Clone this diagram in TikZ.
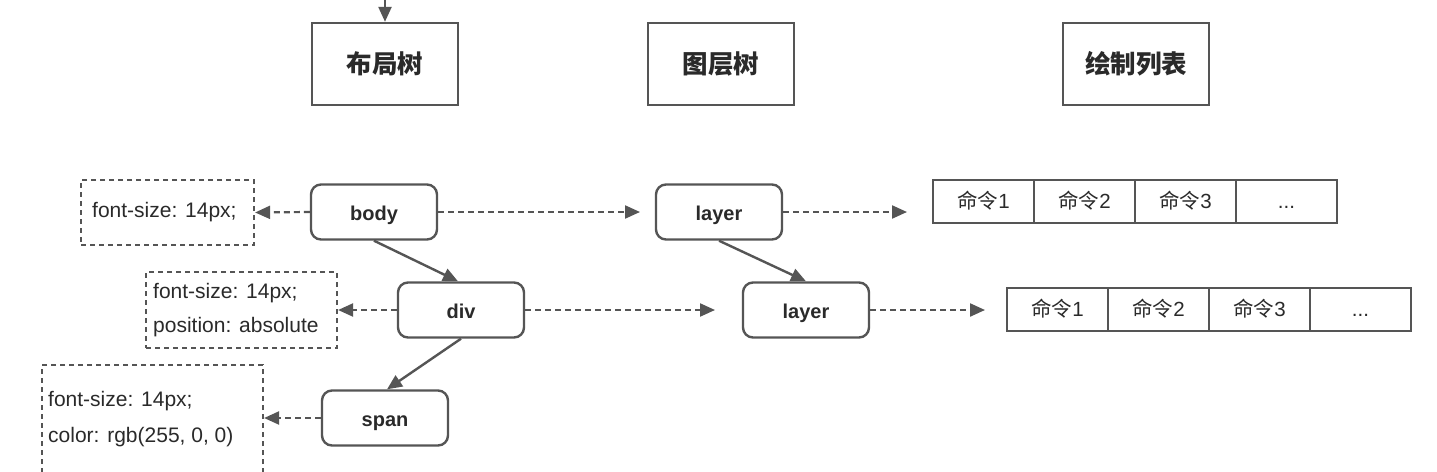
\documentclass[tikz,border=0pt]{standalone}
\usepackage{fontspec}
\setmainfont{Liberation Sans}
\newfontfamily\cjk{Noto Sans CJK SC}
\usetikzlibrary{arrows.meta,positioning}
\definecolor{ln}{HTML}{555555}
\definecolor{tx}{HTML}{2a2a2a}
\newcommand{\mydots}{...}
\begin{document}
\begin{tikzpicture}[x=1pt,y=-1pt,
  every node/.style={text=tx},
  titlebox/.style={draw=ln,line width=2.4pt,minimum width=146pt,minimum height=82pt,font=\cjk\fontsize{25.5}{29}\selectfont\bfseries},
  treebox/.style={draw=ln,line width=2.4pt,rounded corners=10pt,minimum width=126pt,minimum height=55pt,inner sep=0pt,text height=18pt,text depth=2pt,font=\fontsize{20}{23}\selectfont\bfseries},
  propbox/.style={draw=ln,line width=2.2pt,dash pattern=on 5pt off 4pt},
  proptext/.style={font=\fontsize{21}{24}\selectfont,anchor=west,inner sep=0pt},
  cell/.style={draw=ln,line width=2.2pt,minimum width=101pt,minimum height=43pt,font=\fontsize{20.5}{24}\selectfont,inner sep=0pt,text height=16pt,text depth=2pt},
  tip/.style={-{Triangle[length=15pt,width=13pt]}},
  darr/.style={draw=ln,line width=2.2pt,dash pattern=on 6pt off 4pt,tip},
  sarr/.style={draw=ln,line width=2.4pt,tip}]
\clip (0,0) rectangle (1437,471);
\useasboundingbox (0,0) rectangle (1437,471);
\fill[white] (0,0) rectangle (1437,471);

% titles
\node[titlebox] (layout) at (385,64) {布局树};
\node[titlebox] (ltree) at (721,64) {图层树};
\node[titlebox] (plist) at (1136,64) {绘制列表};
\coordinate (topin) at (385,-5);
\draw[sarr] (topin) -- (layout.north);

% tree nodes
\node[treebox] (body) at (374,212) {body};
\node[treebox] (div) at (461,310) {div};
\node[treebox] (span) at (385,418) {span};
\node[treebox] (lay1) at (719,212) {layer};
\node[treebox] (lay2) at (806,310) {layer};

% property boxes
\node[propbox,minimum width=173pt,minimum height=65pt] (p1) at (167.5,212.5) {};
\node[proptext] at (92,212) {font-size: 14px;};
\node[propbox,minimum width=191pt,minimum height=76pt] (p2) at (241.5,310) {};
\node[proptext] at (153,293) {font-size: 14px;};
\node[proptext] at (153,327) {position: absolute};
\node[propbox,minimum width=221pt,minimum height=130pt] (p3) at (152.5,430) {};
\node[proptext] at (48,401) {font-size: 14px;};
\node[proptext] at (48,437) {color: rgb(255, 0, 0)};

% command lists
\foreach \i/\t in {0/{{\cjk 命令}1},1/{{\cjk 命令}2},2/{{\cjk 命令}3},3/\mydots}{
  \node[cell] (a\i) at ({983.5+101*\i},201.5) {\t};
  \node[cell] (b\i) at ({1057.5+101*\i},309.5) {\t};
}

% connectors
\draw[darr] (body.west) -- (p1.east);
\draw[darr] (div.west) -- (p2.east);
\draw[darr] (span.west) -- (span.west -| p3.east);
\coordinate (e1) at (640,212);
\coordinate (e2) at (715,310);
\coordinate (e3) at (907,212);
\coordinate (e4) at (985,310);
\draw[darr] (body.east) -- (e1);
\draw[darr] (div.east) -- (e2);
\draw[darr] (lay1.east) -- (e3);
\draw[darr] (lay2.east) -- (e4);
\draw[sarr] (body.south) -- ([xshift=-3pt]div.north);
\draw[sarr] (div.south) -- ([xshift=2pt]span.north);
\draw[sarr] (lay1.south) -- (lay2.north);
\end{tikzpicture}
\end{document}
